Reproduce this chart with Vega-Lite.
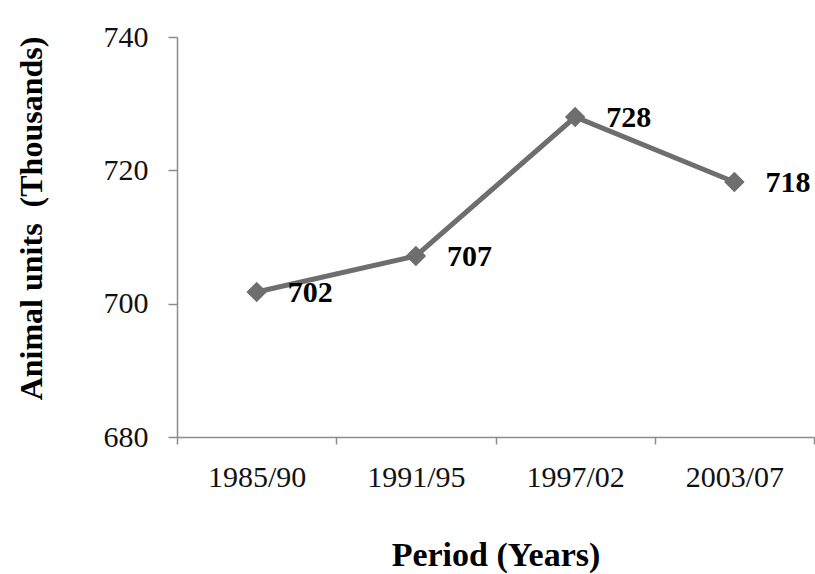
{
  "$schema": "https://vega.github.io/schema/vega-lite/v6.json",
  "autosize": "none",
  "width": 637,
  "height": 400,
  "padding": {"left": 177, "top": 37, "right": 1, "bottom": 137},
  "background": "white",
  "config": {
    "view": {"stroke": null},
    "font": "Liberation Serif"
  },
  "data": {
    "values": [
      {"period": "1985/90", "units": 701.75, "label": "702"},
      {"period": "1991/95", "units": 707.15, "label": "707"},
      {"period": "1997/02", "units": 728.0, "label": "728"},
      {"period": "2003/07", "units": 718.25, "label": "718"}
    ]
  },
  "encoding": {
    "x": {
      "field": "period",
      "type": "ordinal",
      "sort": null,
      "scale": {"paddingInner": 0, "paddingOuter": 0},
      "axis": {
        "title": "Period (Years)",
        "titleFont": "Liberation Serif",
        "titleFontSize": 34,
        "titleFontWeight": "bold",
        "titleColor": "#000000",
        "titleBaseline": "middle",
        "titleY": 118,
        "labelAngle": 0,
        "labelFont": "Liberation Serif",
        "labelFontSize": 30,
        "labelColor": "#111111",
        "labelPadding": 18,
        "tickBand": "extent",
        "tickSize": 7,
        "tickColor": "#8c8c8c",
        "tickWidth": 1.5,
        "domainColor": "#8c8c8c",
        "domainWidth": 1.5,
        "grid": false
      }
    },
    "y": {
      "field": "units",
      "type": "quantitative",
      "scale": {"domain": [680, 740], "nice": false, "zero": false},
      "axis": {
        "title": "Animal units\u00a0 (Thousands)",
        "titleFont": "Liberation Serif",
        "titleFontSize": 32,
        "titleFontWeight": "bold",
        "titleColor": "#000000",
        "titleAngle": -90,
        "titleAlign": "center",
        "titleBaseline": "middle",
        "titleX": -146,
        "titleY": 181,
        "values": [680, 700, 720, 740],
        "labelFont": "Liberation Serif",
        "labelFontSize": 30,
        "labelColor": "#111111",
        "labelPadding": 20,
        "tickSize": 9,
        "tickColor": "#8c8c8c",
        "tickWidth": 1.5,
        "domainColor": "#8c8c8c",
        "domainWidth": 1.5,
        "grid": false
      }
    }
  },
  "layer": [
    {"mark": {"type": "line", "color": "#6e6e6e", "strokeWidth": 5}},
    {"mark": {"type": "point", "shape": "diamond", "filled": true, "size": 420, "color": "#6e6e6e", "opacity": 1}},
    {
      "mark": {"type": "text", "align": "left", "baseline": "middle", "dx": 31, "dy": 1, "font": "Liberation Serif", "fontSize": 30, "fontWeight": "bold", "color": "#000000"},
      "encoding": {"text": {"field": "label"}}
    }
  ]
}
